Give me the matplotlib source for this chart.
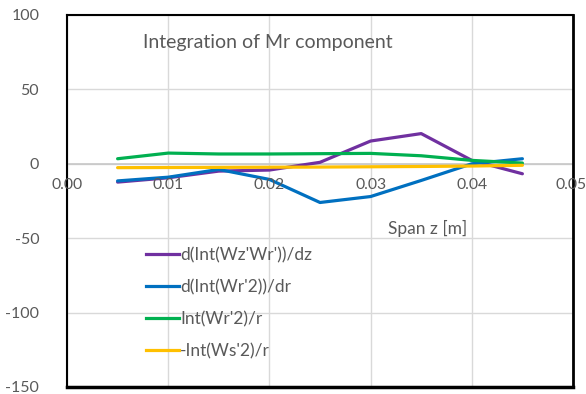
import matplotlib
matplotlib.use("Agg")
import matplotlib.pyplot as plt
from matplotlib.lines import Line2D

plt.rcParams['font.family'] = ['Lato', 'DejaVu Sans']
plt.rcParams['axes.unicode_minus'] = False

span = [0.005, 0.010, 0.015, 0.020, 0.025, 0.030, 0.035, 0.040, 0.045]
d_int_wzwr_dz = [-12.3, -9.4, -4.9, -4.2, 1.0, 15.3, 20.3, 2.3, -6.7]
d_int_wr2_dr = [-11.5, -9.0, -3.8, -10.5, -26.0, -22.0, -11.2, 0.0, 3.4]
int_wr2_r = [3.4, 7.2, 6.6, 6.6, 6.8, 7.0, 5.4, 2.3, 0.5]
neg_int_ws2_r = [-2.6, -2.5, -2.4, -2.3, -2.2, -2.0, -1.8, -1.5, -1.0]

series_names = ["d(Int(Wz'Wr'))/dz", "d(Int(Wr'2))/dr", "Int(Wr'2)/r", "-Int(Ws'2)/r"]
colors = ['#7030A0', '#0070C0', '#00B050', '#FFC000']
x_ticks = [0.00, 0.01, 0.02, 0.03, 0.04, 0.05]
x_tick_labels = ['0.00', '0.01', '0.02', '0.03', '0.04', '0.05']
y_ticks = [-150, -100, -50, 0, 50, 100]

fig = plt.figure(figsize=(5.86, 3.94), dpi=100)
ax = fig.add_axes([67/586, 1 - 387/394, 506/586, 372/394])

tc = '#595959'
for ys, c in zip([d_int_wzwr_dz, d_int_wr2_dr, int_wr2_r, neg_int_ws2_r], colors):
    ax.plot(span, ys, color=c, lw=2.3, solid_capstyle='round', zorder=3)

ax.set_xlim(0, 0.05)
ax.set_ylim(-150, 100)
ax.set_xticks(x_ticks)
ax.set_yticks(y_ticks)
ax.set_xticklabels([])
ax.tick_params(axis='both', length=0)
ax.tick_params(axis='y', pad=20, labelsize=11.5, labelcolor=tc)
ax.grid(True, color='#D9D9D9', lw=1)
ax.axhline(0, color='#C8C8C8', lw=1.2, zorder=2)

for xv, lab in zip(x_ticks, x_tick_labels):
    ax.annotate(lab, (xv, 0), xytext=(-1.5 if xv >= 0.05 else 0, -10),
                textcoords='offset points',
                ha='center', va='top', fontsize=11.3, color=tc)

for s, lw in [('left', 1.5), ('top', 1.5), ('right', 2.0), ('bottom', 2.5)]:
    ax.spines[s].set_color('black')
    ax.spines[s].set_linewidth(lw)

ax.text(0.397, 0.925, 'Integration of Mr component', transform=ax.transAxes,
        ha='center', va='center', fontsize=14, color=tc)
ax.text(0.634, 0.425, 'Span z [m]', transform=ax.transAxes,
        ha='left', va='center', fontsize=12.5, color=tc)

handles = [Line2D([0], [0], color=c, lw=2.3) for c in colors]
leg = ax.legend(handles, series_names, loc='upper left',
                bbox_to_anchor=(0.143, 0.395), frameon=False, fontsize=12.5,
                handlelength=1.9, handletextpad=0.05, labelspacing=0.92,
                borderaxespad=0)
for t in leg.get_texts():
    t.set_color(tc)

fig.savefig('out.png', dpi=100)
